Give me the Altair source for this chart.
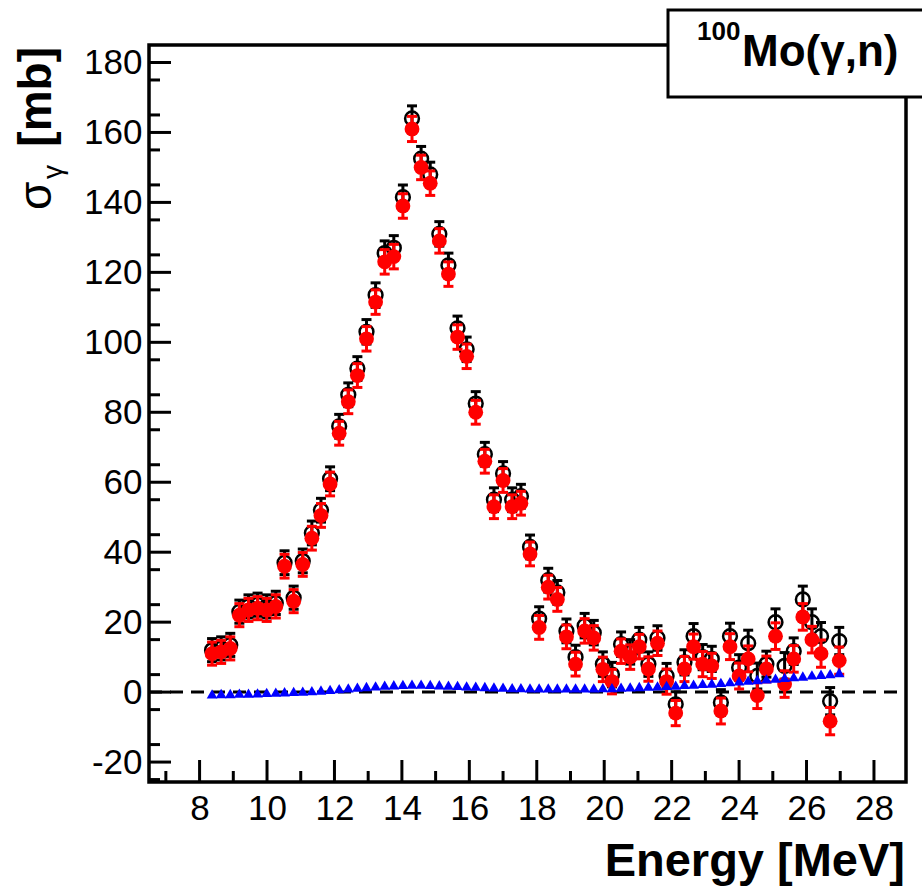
import altair as alt
import pandas as pd

# ---- data ----
energy = [8.37, 8.64, 8.91, 9.18, 9.45, 9.72, 9.99, 10.26, 10.52, 10.79,
          11.06, 11.33, 11.60, 11.87, 12.14, 12.41, 12.68, 12.95, 13.22, 13.49,
          13.76, 14.03, 14.30, 14.57, 14.84, 15.11, 15.38, 15.65, 15.92, 16.19,
          16.46, 16.73, 17.00, 17.27, 17.53, 17.80, 18.07, 18.34, 18.61, 18.88,
          19.15, 19.42, 19.69, 19.96, 20.23, 20.50, 20.77, 21.04, 21.31, 21.58,
          21.85, 22.12, 22.38, 22.65, 22.92, 23.19, 23.46, 23.73, 24.00, 24.27,
          24.54, 24.81, 25.08, 25.35, 25.62, 25.89, 26.16, 26.43, 26.70, 26.97]

sigma_red = [11, 11.5, 12.5, 22, 23.5, 24, 23.5, 24.5, 36, 26,
             36.5, 44, 50.5, 59.5, 74, 83, 90.5, 101, 111.5, 123,
             124.5, 139, 161, 150, 145.5, 129, 119.5, 101.5, 96, 80,
             66, 53, 60.5, 53, 54, 39.5, 18.5, 30, 26.5, 15.8,
             8, 17.5, 15.5, 6.5, 3, 11.7, 10, 13, 6.6, 14,
             3, -6, 6.6, 13, 8, 7.5, -5.4, 13, 4.6, 9.5,
             -1, 6.6, 16, 2.3, 9.5, 21.5, 15, 11, -8.3, 9]

sigma_black = [12, 12.5, 13.5, 23, 24.5, 25, 24.5, 25.5, 37, 27,
               37.5, 45.5, 52, 61, 76, 85, 92.5, 103, 113.5, 125.5,
               127, 141.5, 164, 152.5, 148, 131, 122, 104, 98, 82.5,
               68, 55, 62.5, 55, 56, 41.5, 21, 32, 28.5, 17.5,
               10, 19, 17, 8, 5, 13.7, 11.5, 15, 8, 15.5,
               4.6, -3.5, 8.5, 16, 10, 9.5, -3, 16, 7, 14,
               4.6, 8, 20, 7.5, 11.7, 26.5, 20, 16, -2.6, 14.6]

sigma_err = [3.3, 3.3, 3.3, 3.3, 3.3, 3.3, 3.3, 3.3, 3.4, 3.3,
             3.4, 3.4, 3.4, 3.4, 3.4, 3.4, 3.4, 3.5, 3.5, 3.5,
             3.5, 3.5, 3.6, 3.5, 3.5, 3.5, 3.5, 3.5, 3.5, 3.4,
             3.4, 3.4, 3.4, 3.4, 3.4, 3.4, 3.4, 3.4, 3.4, 3.4,
             3.4, 3.5, 3.5, 3.5, 3.5, 3.5, 3.5, 3.5, 3.5, 3.5,
             3.6, 3.6, 3.6, 3.6, 3.6, 3.6, 3.7, 3.7, 3.7, 3.7,
             3.7, 3.7, 3.8, 3.8, 3.8, 3.8, 3.8, 3.9, 3.9, 3.9]

sigma_blue = [-0.5, -0.4, -0.4, -0.3, -0.3, -0.2, -0.1, 0.0, 0.1, 0.2,
              0.3, 0.4, 0.6, 0.8, 1.0, 1.2, 1.4, 1.6, 1.8, 2.0,
              2.1, 2.2, 2.3, 2.3, 2.2, 2.1, 2.0, 1.9, 1.8, 1.7,
              1.6, 1.5, 1.4, 1.3, 1.3, 1.2, 1.2, 1.2, 1.2, 1.2,
              1.2, 1.2, 1.2, 1.3, 1.3, 1.4, 1.5, 1.6, 1.7, 1.8,
              1.9, 2.0, 2.2, 2.3, 2.5, 2.6, 2.8, 3.0, 3.2, 3.4,
              3.6, 3.8, 4.0, 4.2, 4.4, 4.6, 4.9, 5.1, 5.3, 5.6]

x_labels = [8, 10, 12, 14, 16, 18, 20, 22, 24, 26, 28]
x_minor = [7, 9, 11, 13, 15, 17, 19, 21, 23, 25, 27]
y_labels = [-20, 0, 20, 40, 60, 80, 100, 120, 140, 160, 180]
y_minor = [-25, -15, -5, 5, 15, 25, 35, 45, 55, 65, 75, 85, 95, 105,
           115, 125, 135, 145, 155, 165, 175]
zero_level = [0]

# ---- layout ----
W, H = 757, 737
FONT = "Liberation Sans"

df = pd.DataFrame({
    "E": energy,
    "red": sigma_red,
    "black": sigma_black,
    "err": sigma_err,
    "blue": sigma_blue,
})
df["red_lo"] = df["red"] - df["err"]
df["red_hi"] = df["red"] + df["err"]
df["black_lo"] = df["black"] - df["err"]
df["black_hi"] = df["black"] + df["err"]

dummy = pd.DataFrame({"d": [0]})

xs = alt.Scale(domain=[6.5, 28.95], nice=False, zero=False)
ys = alt.Scale(domain=[-25.7, 185], nice=False, zero=False)

xaxis = alt.Axis(values=x_labels, ticks=False, domain=False, grid=False,
                 labelFont=FONT, labelFontSize=35, labelColor="black",
                 labelPadding=9, labelFlush=False, labelOverlap=False, title=None,
                 labelExpr="'' + datum.value")
yaxis = alt.Axis(values=y_labels, ticks=False, domain=False, grid=False,
                 labelFont=FONT, labelFontSize=35, labelColor="black",
                 labelPadding=7, labelOverlap=False, title=None,
                 labelExpr="'' + datum.value")


def XE(field):
    return alt.X(field, scale=xs, axis=xaxis)


def YE(field):
    return alt.Y(field, scale=ys, axis=yaxis)


base = alt.Chart(df)

# zero dashed line
zero_line = alt.Chart(pd.DataFrame({"z": zero_level})).mark_rule(
    color="black", strokeWidth=3, strokeDash=[13, 8]).encode(
    y=YE("z:Q"), x=alt.value(0), x2=alt.value(W))

# ticks (inside the frame)
xt_major = alt.Chart(pd.DataFrame({"v": x_labels})).mark_rule(color="black", strokeWidth=3).encode(
    x=XE("v:Q"), y=alt.value(H), y2=alt.value(H - 22))
xt_minor = alt.Chart(pd.DataFrame({"v": x_minor})).mark_rule(color="black", strokeWidth=3).encode(
    x=XE("v:Q"), y=alt.value(H), y2=alt.value(H - 11))
yt_major = alt.Chart(pd.DataFrame({"v": y_labels})).mark_rule(color="black", strokeWidth=3).encode(
    y=YE("v:Q"), x=alt.value(0), x2=alt.value(22))
yt_minor = alt.Chart(pd.DataFrame({"v": y_minor})).mark_rule(color="black", strokeWidth=3).encode(
    y=YE("v:Q"), x=alt.value(0), x2=alt.value(11))


def errbars(lo, hi, color):
    bar = base.mark_rule(color=color, strokeWidth=3).encode(
        x=XE("E:Q"), y=YE(f"{lo}:Q"), y2=f"{hi}:Q")
    cap_lo = base.mark_tick(color=color, orient="horizontal", size=10, thickness=3, opacity=1).encode(
        x=XE("E:Q"), y=YE(f"{lo}:Q"))
    cap_hi = base.mark_tick(color=color, orient="horizontal", size=10, thickness=3, opacity=1).encode(
        x=XE("E:Q"), y=YE(f"{hi}:Q"))
    return [bar, cap_lo, cap_hi]


black_pts = base.mark_point(shape="circle", filled=False, size=190, strokeWidth=2.5,
                            color="black", opacity=1).encode(
    x=XE("E:Q"), y=YE("black:Q"))
red_pts = base.mark_point(shape="circle", filled=True, size=220, color="#ff0000", opacity=1).encode(
    x=XE("E:Q"), y=YE("red:Q"))
blue_pts = base.mark_point(shape="triangle-up", filled=True, size=115, color="#0000ff", opacity=1).encode(
    x=XE("E:Q"), y=YE("blue:Q"))

frame = alt.Chart(dummy).mark_rect(fillOpacity=0, stroke="black", strokeWidth=3.5).encode(
    x=alt.value(0), x2=alt.value(W), y=alt.value(0), y2=alt.value(H))

# texts
x_title = alt.Chart(dummy).mark_text(text="Energy [MeV]", font=FONT, fontWeight="bold", fontSize=47,
                                     align="right", baseline="alphabetic", color="black").encode(
    x=alt.value(756), y=alt.value(831))
y_mb = alt.Chart(dummy).mark_text(text="[mb]", font=FONT, fontWeight="bold", fontSize=46, angle=270,
                                  align="right", baseline="alphabetic", color="black").encode(
    x=alt.value(-98), y=alt.value(2))
y_sig = alt.Chart(dummy).mark_text(text="σ", font=FONT, fontSize=46, angle=270,
                                   align="left", baseline="alphabetic", color="black").encode(
    x=alt.value(-98), y=alt.value(165))
y_gam = alt.Chart(dummy).mark_text(text="γ", font=FONT, fontSize=28, angle=270,
                                   align="left", baseline="alphabetic", color="black").encode(
    x=alt.value(-87), y=alt.value(134))

box = alt.Chart(dummy).mark_rect(fill="white", stroke="black", strokeWidth=3).encode(
    x=alt.value(519), x2=alt.value(800), y=alt.value(-35), y2=alt.value(52))
sup = alt.Chart(dummy).mark_text(text="100", font=FONT, fontWeight="bold", fontSize=26,
                                 align="left", baseline="alphabetic", color="black").encode(
    x=alt.value(548), y=alt.value(-5))
label = alt.Chart(dummy).mark_text(text="Mo(γ,n)", font=FONT, fontWeight="bold", fontSize=44,
                                   align="left", baseline="alphabetic", color="black").encode(
    x=alt.value(593), y=alt.value(21))

layers = [zero_line, xt_major, xt_minor, yt_major, yt_minor]
layers += errbars("black_lo", "black_hi", "black")
layers += [black_pts]
layers += errbars("red_lo", "red_hi", "#ff0000")
layers += [red_pts, blue_pts, frame, x_title, y_mb, y_sig, y_gam, box, sup, label]

chart = alt.layer(*layers).properties(
    width=W, height=H,
    autosize=alt.AutoSizeParams(type="none"),
    padding={"left": 149, "top": 45, "right": 16, "bottom": 104},
    background="white",
).configure_view(strokeWidth=0)

chart.save("out.html", embed_options={"renderer": "svg", "actions": False})
